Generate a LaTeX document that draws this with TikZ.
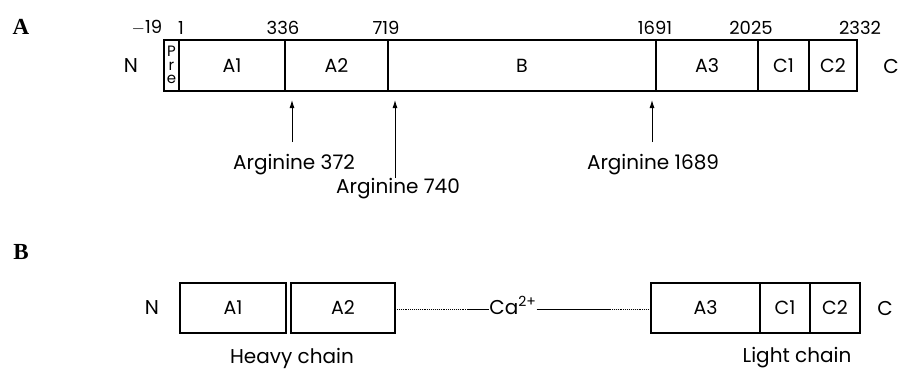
\documentclass[tikz,border=0pt]{standalone}
\usepackage{fontspec}
\setmainfont{Poppins}
\newfontfamily\serifbold{Liberation Serif}
\usetikzlibrary{arrows.meta}
\begin{document}
\begin{tikzpicture}[x=1pt,y=-1pt,
  seg/.style={draw,line width=1.2pt,inner sep=0pt,outer sep=0pt,anchor=north west,font=\fontsize{19}{19}\selectfont},
  num/.style={font=\fontsize{18}{18}\selectfont,inner sep=0pt},
  lbl/.style={font=\fontsize{20}{20}\selectfont,inner sep=0pt},
  panel/.style={font=\serifbold\bfseries\fontsize{23}{23}\selectfont,inner sep=0pt},
  arr/.style={line width=0.9pt,-{Latex[length=8pt,width=5pt]}},
  link/.style={line width=0.9pt}]
\useasboundingbox (0,0) rectangle (899,370);
% panel letters
\node[panel] (pA) at (21,27) {A};
\node[panel] (pB) at (21,252) {B};
% top bar
\node[seg,minimum width=15,minimum height=51] (pre) at (164,40) {};
\node[font=\fontsize{15}{13.5}\selectfont,align=center,inner sep=0pt] (pretxt) at (171.5,65) {P\\r\\e};
\node[seg,minimum width=106,minimum height=51] (ta1) at (179,40) {A1};
\node[seg,minimum width=103,minimum height=51] (ta2) at (285,40) {A2};
\node[seg,minimum width=268,minimum height=51] (tb) at (388,40) {B};
\node[seg,minimum width=102,minimum height=51] (ta3) at (656,40) {A3};
\node[seg,minimum width=51,minimum height=51] (tc1) at (758,40) {C1};
\node[seg,minimum width=48,minimum height=51] (tc2) at (809,40) {C2};
\node[lbl] (tN) at (131,66) {N};
\node[lbl] (tC) at (891,66) {C};
% numbers
\node[num] (n19) at (147,28) {$-$19};
\node[num] (n1) at (181,28) {1};
\node[num] (n336) at (283,28) {336};
\node[num] (n719) at (386,28) {719};
\node[num] (n1691) at (655,28) {1691};
\node[num] (n2025) at (751,28) {2025};
\node[num] (n2332) at (860,28) {2332};
% arrows
\coordinate (s1) at (292,142); \coordinate (t1) at (292,100);
\coordinate (s2) at (395,178); \coordinate (t2) at (395,100);
\coordinate (s3) at (652,142); \coordinate (t3) at (652,100);
\draw[arr] (s1) -- (t1);
\draw[arr] (s2) -- (t2);
\draw[arr] (s3) -- (t3);
\node[lbl] (r372) at (294,165) {Arginine 372};
\node[lbl] (r740) at (398,189) {Arginine 740};
\node[lbl] (r1689) at (653,165) {Arginine 1689};
% bottom
\node[seg,minimum width=106,minimum height=50] (ba1) at (180,283) {A1};
\node[seg,minimum width=104,minimum height=50] (ba2) at (291,283) {A2};
\node[seg,minimum width=109,minimum height=50] (ba3) at (651,283) {A3};
\node[seg,minimum width=50,minimum height=50] (bc1) at (760,283) {C1};
\node[seg,minimum width=50,minimum height=50] (bc2) at (810,283) {C2};
\node[lbl] (bN) at (152,308) {N};
\node[lbl] (bC) at (885,308) {C};
\node[lbl,anchor=base] (ca) at (513,314) {Ca\textsuperscript{2+}};
\coordinate (d1) at (467,309);
\coordinate (d2) at (610,309);
\draw[link,densely dotted] (ba2.east |- d1) -- (d1);
\draw[link] (d1) -- (ca.west |- d1);
\draw[link] (ca.east |- d2) -- (d2);
\draw[link,densely dotted] (d2) -- (ba3.west |- d2);
\node[lbl] (heavy) at (292,358) {Heavy chain};
\node[lbl] (light) at (797,358) {Light chain};
\end{tikzpicture}
\end{document}
